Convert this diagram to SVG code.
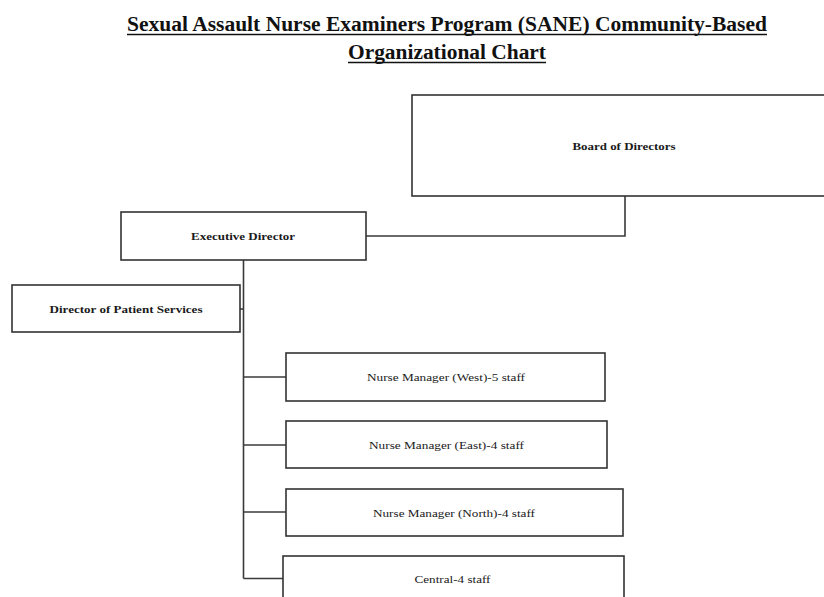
<svg xmlns="http://www.w3.org/2000/svg" width="824" height="597" viewBox="0 0 824 597">
  <style>
    .box { fill: #ffffff; stroke: #333333; stroke-width: 1.6; }
    .conn { fill: none; stroke: #3a3a3a; stroke-width: 1.6; }
    .title { font-family: "Liberation Serif", "Times New Roman", serif; font-weight: bold; font-size: 20px; fill: #111111; }
    .uline { stroke: #111111; stroke-width: 1.5; }
    .bold { font-family: "Liberation Serif", "Times New Roman", serif; font-weight: bold; font-size: 11px; fill: #1a1a1a; text-anchor: middle; dominant-baseline: central; }
    .reg { font-family: "Liberation Serif", "Times New Roman", serif; font-size: 11px; fill: #1a1a1a; text-anchor: middle; dominant-baseline: central; }
  </style>
  <rect width="824" height="597" fill="#ffffff"/>

  <!-- Title -->
  <g id="title">
    <text class="title" x="127" y="31" textLength="640" lengthAdjust="spacingAndGlyphs">Sexual Assault Nurse Examiners Program (SANE) Community-Based</text>
    <line class="uline" x1="127" y1="34.5" x2="767" y2="34.5"/>
    <text class="title" x="348" y="59" textLength="198" lengthAdjust="spacingAndGlyphs">Organizational Chart</text>
    <line class="uline" x1="348" y1="62.5" x2="546" y2="62.5"/>
  </g>

  <!-- Connectors -->
  <g id="connectors">
    <polyline class="conn" points="625,196 625,236 366,236"/>
    <line class="conn" x1="243.5" y1="260" x2="243.5" y2="578.5"/>
    <line class="conn" x1="240" y1="309" x2="243.5" y2="309"/>
    <line class="conn" x1="243.5" y1="377" x2="286" y2="377"/>
    <line class="conn" x1="243.5" y1="445" x2="286" y2="445"/>
    <line class="conn" x1="243.5" y1="512" x2="286" y2="512"/>
    <line class="conn" x1="243.5" y1="578.5" x2="283" y2="578.5"/>
  </g>

  <!-- Nodes -->
  <g id="board">
    <rect class="box" x="412" y="95" width="424" height="101"/>
    <text class="bold" x="624" y="146" textLength="103" lengthAdjust="spacingAndGlyphs">Board of Directors</text>
  </g>

  <g id="executive-director">
    <rect class="box" x="121" y="212" width="245" height="48"/>
    <text class="bold" x="243" y="236" textLength="104" lengthAdjust="spacingAndGlyphs">Executive Director</text>
  </g>

  <g id="patient-services">
    <rect class="box" x="12" y="285" width="228" height="47"/>
    <text class="bold" x="126" y="309" textLength="153" lengthAdjust="spacingAndGlyphs">Director of Patient Services</text>
  </g>

  <g id="nm-west">
    <rect class="box" x="286" y="353" width="319" height="48"/>
    <text class="reg" x="446" y="377" textLength="158" lengthAdjust="spacingAndGlyphs">Nurse Manager (West)-5 staff</text>
  </g>

  <g id="nm-east">
    <rect class="box" x="286" y="421" width="321" height="47"/>
    <text class="reg" x="446.5" y="445" textLength="155" lengthAdjust="spacingAndGlyphs">Nurse Manager (East)-4 staff</text>
  </g>

  <g id="nm-north">
    <rect class="box" x="286" y="489" width="337" height="47"/>
    <text class="reg" x="454" y="513" textLength="162" lengthAdjust="spacingAndGlyphs">Nurse Manager (North)-4 staff</text>
  </g>

  <g id="central">
    <rect class="box" x="283" y="556" width="341" height="60"/>
    <text class="reg" x="452.5" y="579" textLength="76" lengthAdjust="spacingAndGlyphs">Central-4 staff</text>
  </g>
</svg>
